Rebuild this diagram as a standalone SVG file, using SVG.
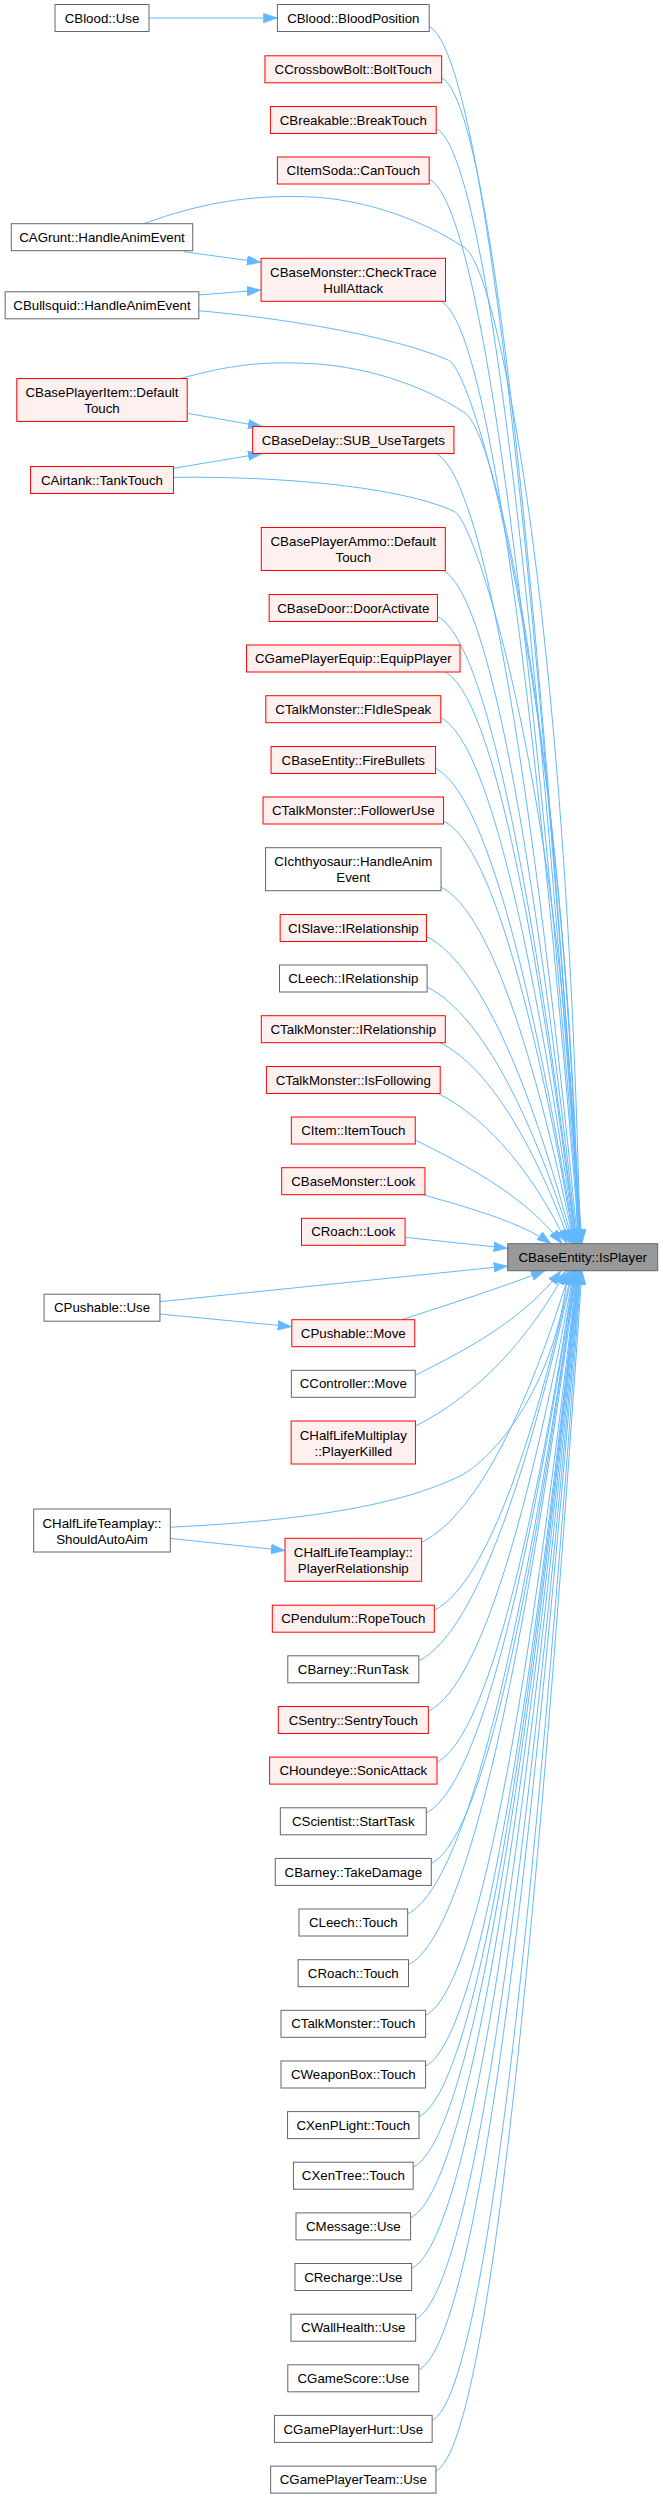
<svg xmlns="http://www.w3.org/2000/svg" width="663" height="2499" viewBox="0 0 663 2499">
<style>
.g rect{fill:#ffffff;stroke:#666666;stroke-width:1}
.r rect{fill:#fff0f0;stroke:#ff0000;stroke-width:1}
.root rect{fill:#999999;stroke:#666666;stroke-width:1}
text{font-family:"Liberation Sans",Arial,Helvetica,sans-serif;font-size:13.3px;fill:#000000;text-anchor:middle}
#edges path{fill:none;stroke:#63b8ff;stroke-width:1;marker-end:url(#ah)}
</style>
<defs>
<marker id="ah" markerUnits="userSpaceOnUse" viewBox="0 0 14 10" markerWidth="14" markerHeight="10" refX="14" refY="5" orient="auto">
<path d="M0,0 L14,5 L0,10 z" fill="#63b8ff" stroke="#63b8ff" stroke-width="0.5"/>
</marker>
</defs>
<rect x="0" y="0" width="663" height="2499" fill="#ffffff"/>
<g id="edges">
<path d="M149,18 L277.4,18"/>
<path d="M183.9,251.7 L260.9,262.3"/>
<path d="M198.7,295 L260.9,290"/>
<path d="M187.3,413.3 L262,426.5"/>
<path d="M173.4,468.3 L262,453.5"/>
<path d="M159.8,1314 L291.7,1326.7"/>
<path d="M170,1538.4 L285,1550.5"/>
<path d="M429.2,26.5 C490.3,57.1 543.8,696 582,1243.7"/>
<path d="M441.7,77.8 C497.6,105.8 546.5,719 581.5,1243.7"/>
<path d="M436.2,128.5 C494.1,157.5 544.8,741.9 581,1243.7"/>
<path d="M429.2,179 C489.7,209.3 542.7,764.6 580.5,1243.7"/>
<path d="M143.8,223.7 C200,203 250,195 304.4,196.7 C360,198 420,218 465,248 C500,272 568,640 580,1243.7"/>
<path d="M441,301.3 C496.4,329 544.9,819.6 579.5,1243.7"/>
<path d="M198.7,310.7 C280,318 390,335 448.2,360 C476,372 566,700 579,1243.7"/>
<path d="M179.7,378.7 C230,365 260,361.5 304.4,363.3 C360,365 420,383 465,413 C500,437 567,780 578.5,1243.7"/>
<path d="M436,453.5 C492.8,481.9 542.5,888.1 578,1243.7"/>
<path d="M173.4,477.3 C300,476 410,490 454.5,511.7 C478,523 568,820 577.5,1243.7"/>
<path d="M443,570.5 C496.6,597.3 543.5,940.8 577,1243.7"/>
<path d="M437.5,616.5 C493.1,644.3 541.8,961.5 576.5,1243.7"/>
<path d="M445,672 C497.4,698.2 543.3,986.4 576,1243.7"/>
<path d="M440.8,717.7 C494.7,744.6 541.8,1007 575.5,1243.7"/>
<path d="M435.6,768.5 C491.4,796.4 540.1,1029.9 575,1243.7"/>
<path d="M443.6,821 C496,847.2 541.8,1053.5 574.5,1243.7"/>
<path d="M441,887 C494.2,913.6 540.8,1083.2 574,1243.7"/>
<path d="M426.5,936.5 C485.1,965.8 536.4,1105.5 573,1243.7"/>
<path d="M427.1,987 C485.1,1016 535.8,1128.2 572,1243.7"/>
<path d="M440,1042.7 C492,1068.7 537.5,1153.2 570,1243.7"/>
<path d="M438,1093.5 C489.6,1119.3 534.8,1176.1 567,1243.7"/>
<path d="M415.3,1140 C474,1169.3 525.3,1197 562,1243.7"/>
<path d="M422.8,1194.7 C470,1208 520,1222 551,1243.7"/>
<path d="M405,1237.3 L507.7,1248.3"/>
<path d="M159.8,1301.7 L507.7,1266"/>
<path d="M401.7,1319.7 C450,1304 500,1288 545,1270.7"/>
<path d="M415.3,1375.3 C473.6,1346.2 524.6,1317.8 561,1270.7"/>
<path d="M415.5,1426 C475.7,1395.9 528.4,1340.6 566,1270.7"/>
<path d="M170,1527.2 C300,1521 400,1506 460.9,1475.5 C490,1461 556,1390 568,1270.7"/>
<path d="M421.6,1542.4 C481,1512.7 532.9,1393 570,1270.7"/>
<path d="M434.3,1610.2 C489.4,1582.7 537.6,1423.5 572,1270.7"/>
<path d="M418.8,1660.8 C480.5,1630 534.4,1446.2 573,1270.7"/>
<path d="M428.3,1711.5 C486.6,1682.4 537.6,1469.1 574,1270.7"/>
<path d="M437,1762.1 C492,1734.6 540.1,1491.8 574.5,1270.7"/>
<path d="M426.3,1812.8 C485.8,1783.1 537.8,1514.6 575,1270.7"/>
<path d="M431.3,1863.4 C489,1834.6 539.5,1537.4 575.5,1270.7"/>
<path d="M407.7,1914 C475,1880.3 533.9,1560.2 576,1270.7"/>
<path d="M408.5,1964.7 C475.7,1931.1 534.5,1583 576.5,1270.7"/>
<path d="M425.6,2015.3 C486.2,1985 539.1,1605.8 577,1270.7"/>
<path d="M425.6,2066 C486.4,2035.6 539.5,1628.6 577.5,1270.7"/>
<path d="M419.1,2116.6 C482.7,2084.8 538.3,1651.4 578,1270.7"/>
<path d="M413.2,2167.2 C479.3,2134.1 537.2,1674.1 578.5,1270.7"/>
<path d="M410.6,2217.9 C478,2184.2 536.9,1696.9 579,1270.7"/>
<path d="M411.7,2268.5 C478.8,2234.9 537.5,1719.7 579.5,1270.7"/>
<path d="M415.7,2319.2 C481.4,2286.3 538.9,1742.5 580,1270.7"/>
<path d="M418.8,2369.8 C483.5,2337.5 540.1,1765.3 580.5,1270.7"/>
<path d="M432.2,2420.4 C491.7,2390.6 543.8,1788.1 581,1270.7"/>
<path d="M436,2471.1 C494.4,2441.9 545.5,1810.9 582,1270.7"/>
</g>
<g id="n_blood_use" class="g"><rect x="55" y="4.5" width="94" height="27"/><text x="102" y="22.6">CBlood::Use</text></g>
<g id="n_agrunt" class="g"><rect x="11.3" y="223.7" width="181.4" height="27"/><text x="102" y="241.8">CAGrunt::HandleAnimEvent</text></g>
<g id="n_bullsquid" class="g"><rect x="5.15" y="291.8" width="193.7" height="27"/><text x="102" y="309.9">CBullsquid::HandleAnimEvent</text></g>
<g id="n_bpi_default" class="r"><rect x="16.8" y="378.5" width="170.4" height="43"/><text x="102" y="397">CBasePlayerItem::Default</text><text x="102" y="413">Touch</text></g>
<g id="n_airtank" class="r"><rect x="30.55" y="466.5" width="142.9" height="27"/><text x="102" y="484.6">CAirtank::TankTouch</text></g>
<g id="n_push_use" class="g"><rect x="44.05" y="1294.2" width="115.9" height="27"/><text x="102" y="1312.3">CPushable::Use</text></g>
<g id="n_autoaim" class="g"><rect x="33.7" y="1509" width="136.6" height="43"/><text x="102" y="1527.5">CHalfLifeTeamplay::</text><text x="102" y="1543.5">ShouldAutoAim</text></g>
<g id="n_bloodpos" class="g"><rect x="277.4" y="4.5" width="151.8" height="27"/><text x="353.3" y="22.6">CBlood::BloodPosition</text></g>
<g id="n_bolt" class="r"><rect x="264.95" y="55.8" width="176.7" height="27"/><text x="353.3" y="73.9">CCrossbowBolt::BoltTouch</text></g>
<g id="n_break" class="r"><rect x="270.4" y="106.5" width="165.8" height="27"/><text x="353.3" y="124.6">CBreakable::BreakTouch</text></g>
<g id="n_cantouch" class="r"><rect x="277.4" y="157" width="151.8" height="27"/><text x="353.3" y="175.1">CItemSoda::CanTouch</text></g>
<g id="n_checktrace" class="r"><rect x="261.1" y="258.3" width="184.4" height="43"/><text x="353.3" y="276.8">CBaseMonster::CheckTrace</text><text x="353.3" y="292.8">HullAttack</text></g>
<g id="n_sub" class="r"><rect x="252.65" y="426.5" width="201.3" height="27"/><text x="353.3" y="444.6">CBaseDelay::SUB_UseTargets</text></g>
<g id="n_ammo" class="r"><rect x="261.3" y="527.5" width="184" height="43"/><text x="353.3" y="546">CBasePlayerAmmo::Default</text><text x="353.3" y="562">Touch</text></g>
<g id="n_door" class="r"><rect x="269.15" y="594.5" width="168.3" height="27"/><text x="353.3" y="612.6">CBaseDoor::DoorActivate</text></g>
<g id="n_equip" class="r"><rect x="246.55" y="645" width="213.5" height="27"/><text x="353.3" y="663.1">CGamePlayerEquip::EquipPlayer</text></g>
<g id="n_fidle" class="r"><rect x="265.8" y="695.7" width="175" height="27"/><text x="353.3" y="713.8">CTalkMonster::FIdleSpeak</text></g>
<g id="n_fire" class="r"><rect x="271.05" y="746.5" width="164.5" height="27"/><text x="353.3" y="764.6">CBaseEntity::FireBullets</text></g>
<g id="n_follower" class="r"><rect x="263.05" y="797" width="180.5" height="27"/><text x="353.3" y="815.1">CTalkMonster::FollowerUse</text></g>
<g id="n_ichthy" class="g"><rect x="265.55" y="847.7" width="175.5" height="43"/><text x="353.3" y="866.2">CIchthyosaur::HandleAnim</text><text x="353.3" y="882.2">Event</text></g>
<g id="n_islave" class="r"><rect x="280.15" y="914.5" width="146.3" height="27"/><text x="353.3" y="932.6">CISlave::IRelationship</text></g>
<g id="n_leechirel" class="g"><rect x="279.5" y="965" width="147.6" height="27"/><text x="353.3" y="983.1">CLeech::IRelationship</text></g>
<g id="n_talkirel" class="r"><rect x="261.3" y="1015.7" width="184" height="27"/><text x="353.3" y="1033.8">CTalkMonster::IRelationship</text></g>
<g id="n_isfollow" class="r"><rect x="266.4" y="1066.5" width="173.8" height="27"/><text x="353.3" y="1084.6">CTalkMonster::IsFollowing</text></g>
<g id="n_itemtouch" class="r"><rect x="291.35" y="1117" width="123.9" height="27"/><text x="353.3" y="1135.1">CItem::ItemTouch</text></g>
<g id="n_bmlook" class="r"><rect x="281.65" y="1167.7" width="143.3" height="27"/><text x="353.3" y="1185.8">CBaseMonster::Look</text></g>
<g id="n_roachlook" class="r"><rect x="301.5" y="1218.3" width="103.6" height="27"/><text x="353.3" y="1236.4">CRoach::Look</text></g>
<g id="n_isplayer" class="root"><rect x="507.7" y="1243.7" width="150" height="27"/><text x="582.7" y="1261.8">CBaseEntity::IsPlayer</text></g>
<g id="n_pushmove" class="r"><rect x="291.8" y="1319.7" width="123" height="27"/><text x="353.3" y="1337.8">CPushable::Move</text></g>
<g id="n_ctrlmove" class="g"><rect x="291.35" y="1370.3" width="123.9" height="27"/><text x="353.3" y="1388.4">CController::Move</text></g>
<g id="n_playerkilled" class="r"><rect x="291.15" y="1421" width="124.3" height="43"/><text x="353.3" y="1439.5">CHalfLifeMultiplay</text><text x="353.3" y="1455.5">::PlayerKilled</text></g>
<g id="n_playerrel" class="r"><rect x="285" y="1538.3" width="136.6" height="43"/><text x="353.3" y="1556.8">CHalfLifeTeamplay::</text><text x="353.3" y="1572.8">PlayerRelationship</text></g>
<g id="n_rope" class="r"><rect x="272.3" y="1605.2" width="162" height="27"/><text x="353.3" y="1623.3">CPendulum::RopeTouch</text></g>
<g id="n_runtask" class="g"><rect x="287.8" y="1655.8" width="131" height="27"/><text x="353.3" y="1673.9">CBarney::RunTask</text></g>
<g id="n_sentry" class="r"><rect x="278.3" y="1706.5" width="150" height="27"/><text x="353.3" y="1724.6">CSentry::SentryTouch</text></g>
<g id="n_sonic" class="r"><rect x="269.6" y="1757.1" width="167.4" height="27"/><text x="353.3" y="1775.2">CHoundeye::SonicAttack</text></g>
<g id="n_starttask" class="g"><rect x="280.35" y="1807.8" width="145.9" height="27"/><text x="353.3" y="1825.9">CScientist::StartTask</text></g>
<g id="n_takedamage" class="g"><rect x="275.3" y="1858.4" width="156" height="27"/><text x="353.3" y="1876.5">CBarney::TakeDamage</text></g>
<g id="n_leechtouch" class="g"><rect x="298.95" y="1909" width="108.7" height="27"/><text x="353.3" y="1927.1">CLeech::Touch</text></g>
<g id="n_roachtouch" class="g"><rect x="298.1" y="1959.7" width="110.4" height="27"/><text x="353.3" y="1977.8">CRoach::Touch</text></g>
<g id="n_talktouch" class="g"><rect x="281" y="2010.3" width="144.6" height="27"/><text x="353.3" y="2028.4">CTalkMonster::Touch</text></g>
<g id="n_weaponbox" class="g"><rect x="281" y="2061" width="144.6" height="27"/><text x="353.3" y="2079.1">CWeaponBox::Touch</text></g>
<g id="n_xenplight" class="g"><rect x="287.55" y="2111.6" width="131.5" height="27"/><text x="353.3" y="2129.7">CXenPLight::Touch</text></g>
<g id="n_xentree" class="g"><rect x="293.45" y="2162.2" width="119.7" height="27"/><text x="353.3" y="2180.3">CXenTree::Touch</text></g>
<g id="n_message" class="g"><rect x="296" y="2212.9" width="114.6" height="27"/><text x="353.3" y="2231">CMessage::Use</text></g>
<g id="n_recharge" class="g"><rect x="294.95" y="2263.5" width="116.7" height="27"/><text x="353.3" y="2281.6">CRecharge::Use</text></g>
<g id="n_wallhealth" class="g"><rect x="290.95" y="2314.2" width="124.7" height="27"/><text x="353.3" y="2332.3">CWallHealth::Use</text></g>
<g id="n_gamescore" class="g"><rect x="287.8" y="2364.8" width="131" height="27"/><text x="353.3" y="2382.9">CGameScore::Use</text></g>
<g id="n_gphurt" class="g"><rect x="274.45" y="2415.4" width="157.7" height="27"/><text x="353.3" y="2433.5">CGamePlayerHurt::Use</text></g>
<g id="n_gpteam" class="g"><rect x="270.65" y="2466.1" width="165.3" height="27"/><text x="353.3" y="2484.2">CGamePlayerTeam::Use</text></g>
</svg>
